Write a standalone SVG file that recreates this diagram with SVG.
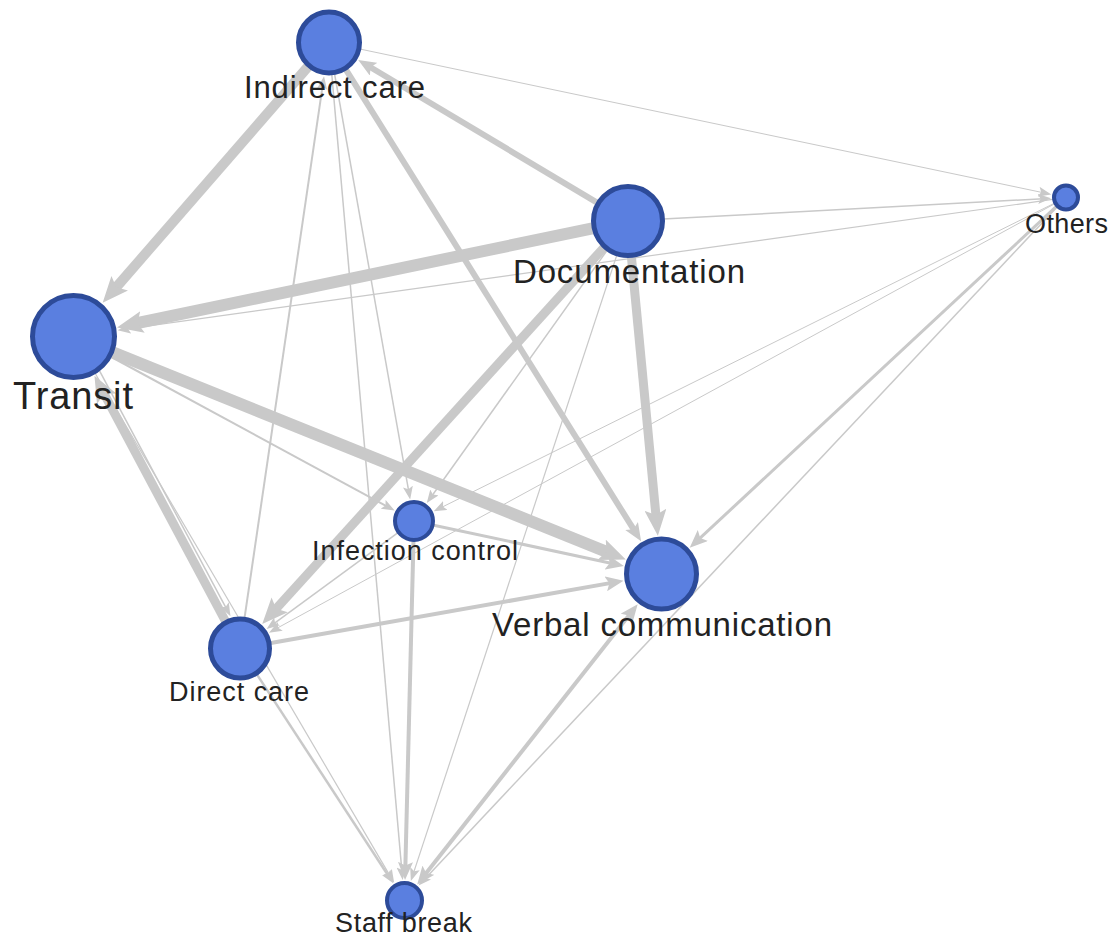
<svg xmlns="http://www.w3.org/2000/svg" width="1120" height="949" viewBox="0 0 1120 949">
<style>
.e{stroke:#c9c9c9;fill:none}
.n{fill:#5a7fe0;stroke:#2d4b99;stroke-width:5}
.ns{fill:#5a7fe0;stroke:#2d4b99;stroke-width:4}
.t{font-family:"Liberation Sans",Arial,sans-serif;fill:#222;text-anchor:middle}
</style>
<defs>
<marker id="aL" viewBox="0 0 10 10" refX="4" refY="5" markerWidth="26" markerHeight="22" markerUnits="userSpaceOnUse" orient="auto" preserveAspectRatio="none"><path d="M0,0L10,5L0,10L2,5z" fill="#c9c9c9"/></marker>
<marker id="aM" viewBox="0 0 10 10" refX="4" refY="5" markerWidth="18" markerHeight="15" markerUnits="userSpaceOnUse" orient="auto" preserveAspectRatio="none"><path d="M0,0L10,5L0,10L2,5z" fill="#c9c9c9"/></marker>
<marker id="aM2" viewBox="0 0 10 10" refX="4" refY="5" markerWidth="18" markerHeight="15" markerUnits="userSpaceOnUse" orient="auto-start-reverse" preserveAspectRatio="none"><path d="M0,0L10,5L0,10L2,5z" fill="#c9c9c9"/></marker>
<marker id="aS" viewBox="0 0 10 10" refX="4" refY="5" markerWidth="13" markerHeight="10" markerUnits="userSpaceOnUse" orient="auto" preserveAspectRatio="none"><path d="M0,0L10,5L0,10L2,5z" fill="#c9c9c9"/></marker>
</defs>
<g id="edges">
<line class="e" x1="1054.1" y1="199.2" x2="125.3" y2="329.2" stroke-width="1.2" marker-end="url(#aS)"/>
<line class="e" x1="359.3" y1="48.9" x2="1043.7" y2="192.8" stroke-width="1" marker-end="url(#aS)"/>
<line class="e" x1="334.4" y1="73.0" x2="408.8" y2="491.7" stroke-width="1.5" marker-end="url(#aS)"/>
<line class="e" x1="331.7" y1="73.4" x2="402.0" y2="872.3" stroke-width="1.5" marker-end="url(#aS)"/>
<line class="e" x1="244.4" y1="618.8" x2="322.9" y2="83.9" stroke-width="2" marker-end="url(#aS)"/>
<line class="e" x1="663" y1="219.1" x2="1043.2" y2="198.7" stroke-width="1.5" marker-end="url(#aS)"/>
<line class="e" x1="607.7" y1="249.5" x2="431.3" y2="496.7" stroke-width="1.5" marker-end="url(#aS)"/>
<line class="e" x1="617.1" y1="254.3" x2="413.3" y2="873.6" stroke-width="1.2" marker-end="url(#aS)"/>
<line class="e" x1="109.5" y1="356.0" x2="387.8" y2="506.8" stroke-width="2" marker-end="url(#aS)"/>
<line class="e" x1="99.3" y1="370.4" x2="226.8" y2="609.3" stroke-width="1.5" marker-end="url(#aS)"/>
<line class="e" x1="398.7" y1="532.2" x2="272.9" y2="624.4" stroke-width="1.5" marker-end="url(#aS)"/>
<line class="e" x1="256.4" y1="673.6" x2="389.0" y2="876.8" stroke-width="2.5" marker-end="url(#aS)"/>
<line class="e" x1="1057.8" y1="206.2" x2="423.9" y2="879.9" stroke-width="1.5" marker-end="url(#aS)"/>
<line class="e" x1="1055.3" y1="202.8" x2="440.7" y2="507.8" stroke-width="1" marker-end="url(#aS)"/>
<line class="e" x1="1055.5" y1="203.3" x2="275.8" y2="628.9" stroke-width="1" marker-end="url(#aS)"/>
<line class="e" x1="94.8" y1="372.7" x2="390.2" y2="876.1" stroke-width="1.2" marker-end="url(#aS)"/>
<line class="e" x1="432.6" y1="525.0" x2="613.3" y2="563.7" stroke-width="3" marker-end="url(#aM)"/>
<line class="e" x1="413.5" y1="540.0" x2="405.3" y2="869.2" stroke-width="4" marker-end="url(#aM)"/>
<line class="e" x1="269.5" y1="643.3" x2="612.9" y2="582.6" stroke-width="4" marker-end="url(#aM)"/>
<line class="e" x1="1057.2" y1="205.7" x2="697.6" y2="540.4" stroke-width="3" marker-end="url(#aM)"/>
<line class="e" x1="631.0" y1="612.7" x2="423.9" y2="875.9" stroke-width="4" marker-start="url(#aM2)" marker-end="url(#aM2)"/>
<line class="e" x1="597.9" y1="203.1" x2="367.5" y2="65.5" stroke-width="6" marker-end="url(#aM)"/>
<line class="e" x1="345.4" y1="68.8" x2="635.4" y2="532.2" stroke-width="6" marker-end="url(#aM)"/>
<line class="e" x1="308.7" y1="65.9" x2="112.9" y2="291.1" stroke-width="10" marker-end="url(#aL)"/>
<line class="e" x1="593.7" y1="228.1" x2="132.3" y2="324.2" stroke-width="12" marker-end="url(#aL)"/>
<line class="e" x1="631.3" y1="255.8" x2="656.4" y2="520.1" stroke-width="9" marker-end="url(#aL)"/>
<line class="e" x1="604.5" y1="246.9" x2="272.7" y2="612.5" stroke-width="9" marker-end="url(#aL)"/>
<line class="e" x1="111.5" y1="351.9" x2="611.3" y2="553.7" stroke-width="12" marker-end="url(#aL)"/>
<line class="e" x1="225.9" y1="622.0" x2="101.8" y2="389.5" stroke-width="9" marker-end="url(#aL)"/>
</g>
<g id="node-indirect-care"><circle class="n" cx="329" cy="42.5" r="30.5"/><text class="t" x="334.5" y="98" font-size="31" textLength="181">Indirect care</text></g>
<g id="node-documentation"><circle class="n" cx="628" cy="221" r="34.5"/><text class="t" x="629" y="283" font-size="33" textLength="232">Documentation</text></g>
<g id="node-transit"><circle class="n" cx="73.5" cy="336.5" r="41"/><text class="t" x="73" y="409" font-size="38" textLength="120">Transit</text></g>
<g id="node-others"><circle class="ns" cx="1066" cy="197.5" r="12"/><text class="t" x="1066.5" y="233" font-size="27" textLength="83">Others</text></g>
<g id="node-infection-control"><circle class="ns" cx="414" cy="521" r="19"/><text class="t" x="415" y="560" font-size="27" textLength="206">Infection control</text></g>
<g id="node-verbal-communication"><circle class="n" cx="661.5" cy="574" r="35"/><text class="t" x="662" y="636" font-size="33" textLength="340">Verbal communication</text></g>
<g id="node-direct-care"><circle class="n" cx="240" cy="648.5" r="29.5"/><text class="t" x="239" y="701" font-size="27" textLength="140">Direct care</text></g>
<g id="node-staff-break"><circle class="ns" cx="404.5" cy="900.5" r="17.5"/><text class="t" x="403.5" y="932" font-size="27" textLength="137">Staff break</text></g>
</svg>
